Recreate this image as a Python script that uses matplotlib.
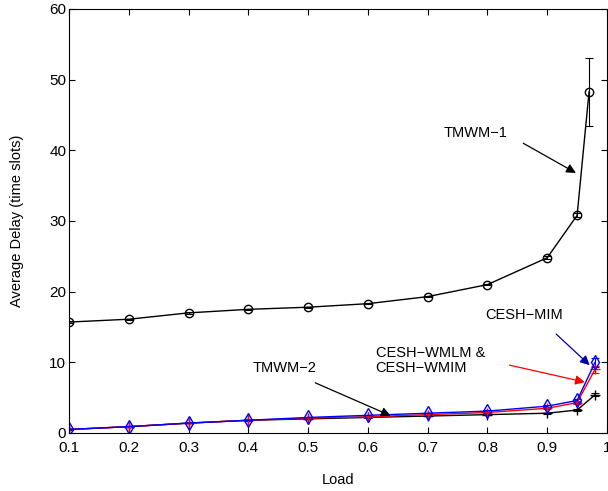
import matplotlib.pyplot as plt

plt.rcParams['font.family'] = ['Liberation Sans', 'DejaVu Sans']

# donnees
load = [0.1, 0.2, 0.3, 0.4, 0.5, 0.6, 0.7, 0.8, 0.9, 0.95, 0.98]
load_tmwm1 = [0.1, 0.2, 0.3, 0.4, 0.5, 0.6, 0.7, 0.8, 0.9, 0.95, 0.97]

tmwm1 = [15.7, 16.1, 17.0, 17.5, 17.8, 18.3, 19.3, 21.0, 24.8, 30.8, 48.3]
tmwm1_err = [0.1, 0.1, 0.1, 0.1, 0.1, 0.1, 0.1, 0.1, 0.2, 0.3, 4.8]

tmwm2 = [0.5, 0.9, 1.4, 1.8, 2.0, 2.2, 2.4, 2.6, 2.8, 3.25, 5.4]
tmwm2_err = [0.05, 0.05, 0.05, 0.05, 0.05, 0.05, 0.05, 0.05, 0.1, 0.1, 0.2]

cesh_wm = [0.5, 0.9, 1.4, 1.8, 2.1, 2.3, 2.6, 2.9, 3.5, 4.3, 9.0]
cesh_wm_err = [0.05, 0.05, 0.05, 0.05, 0.05, 0.05, 0.1, 0.1, 0.1, 0.2, 0.5]

cesh_mim = [0.5, 0.9, 1.4, 1.8, 2.2, 2.5, 2.8, 3.1, 3.8, 4.6, 10.0]
cesh_mim_err = [0.05, 0.05, 0.05, 0.05, 0.05, 0.05, 0.1, 0.1, 0.1, 0.2, 0.6]

fig = plt.figure(figsize=(6.08, 4.91), dpi=100)
ax = fig.add_axes([69 / 608, 1 - 433 / 491, 538 / 608, 424 / 491])

err_kw = dict(linewidth=1, capsize=3, elinewidth=0.8, capthick=0.8)

ax.errorbar(load_tmwm1, tmwm1, yerr=tmwm1_err, color='black', marker='o',
            markersize=6, markerfacecolor='none', **err_kw)
ax.errorbar(load, tmwm2, yerr=tmwm2_err, color='black', marker='+',
            markersize=7, **err_kw)
ax.errorbar(load, cesh_wm, yerr=cesh_wm_err, color='red', marker='+',
            markersize=7, **err_kw)
ax.errorbar(load, cesh_mim, yerr=cesh_mim_err, color='blue', marker='d',
            markersize=7, markerfacecolor='none', **err_kw)

# annotations
arr = dict(arrowstyle='-|>', lw=0.9, mutation_scale=14, shrinkA=0, shrinkB=0)
ax.annotate('', xy=(0.948, 36.8), xytext=(0.86, 41.0),
            arrowprops=dict(color='black', **arr))
ax.text(0.78, 42.4, 'TMWM\u22121', ha='center', va='center', fontsize=10.5)

ax.annotate('', xy=(0.971, 9.6), xytext=(0.915, 14.0),
            arrowprops=dict(color='#0000aa', **arr))
ax.text(0.862, 16.7, 'CESH\u2212MIM', ha='center', va='center', fontsize=10.5)

ax.annotate('', xy=(0.963, 7.2), xytext=(0.837, 9.6),
            arrowprops=dict(color='red', **arr))
ax.text(0.613, 10.3, 'CESH\u2212WMLM &\nCESH\u2212WMIM', ha='left', va='center',
        fontsize=10.5, linespacing=1.1)

ax.annotate('', xy=(0.638, 2.45), xytext=(0.512, 7.1),
            arrowprops=dict(color='black', **arr))
ax.text(0.46, 9.2, 'TMWM\u22122', ha='center', va='center', fontsize=10.5)

ax.set_xlim(0.1, 1.0)
ax.set_ylim(0, 60)
ax.set_xticks([0.1, 0.2, 0.3, 0.4, 0.5, 0.6, 0.7, 0.8, 0.9, 1.0])
ax.set_xticklabels(['0.1', '0.2', '0.3', '0.4', '0.5', '0.6', '0.7', '0.8', '0.9', '1'])
ax.set_yticks([0, 10, 20, 30, 40, 50, 60])
ax.tick_params(direction='in', top=True, right=True, labelsize=11, length=4)
ax.tick_params(axis='x', pad=6)
ax.tick_params(axis='y', pad=2)
ax.set_xlabel('Load', fontsize=10.5, labelpad=13)
ax.set_ylabel('Average Delay (time slots)', fontsize=10.5, labelpad=18)

plt.savefig('out.png', dpi=100)
